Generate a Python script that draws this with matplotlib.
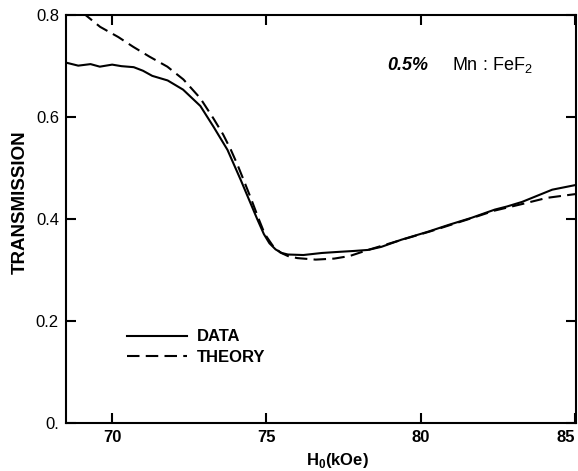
import matplotlib
matplotlib.use('Agg')
import matplotlib.pyplot as plt

# field (kOe) and transmission
data_h = [68.5, 68.9, 69.3, 69.6, 70.0, 70.3, 70.7, 71.0, 71.3, 71.8, 72.3,
          72.86, 73.29, 73.74, 74.17, 74.4, 74.7, 74.92, 75.1, 75.3, 75.5,
          75.7, 76.2, 76.8, 77.3, 77.85, 78.3, 78.73, 79.38, 80.26, 80.91,
          81.66, 82.41, 82.8, 83.29, 84.27, 85.1]
data_t = [0.706, 0.700, 0.703, 0.698, 0.702, 0.699, 0.697, 0.690, 0.680,
          0.671, 0.653, 0.621, 0.580, 0.535, 0.476, 0.443, 0.400, 0.370,
          0.352, 0.340, 0.333, 0.330, 0.329, 0.333, 0.335, 0.337, 0.339,
          0.345, 0.359, 0.375, 0.388, 0.402, 0.418, 0.424, 0.433, 0.457,
          0.467]

theory_h = [68.5, 69.12, 69.61, 70.2, 70.68, 71.2, 71.79, 72.31, 72.86, 73.29,
            73.6, 73.85, 74.07, 74.27, 74.5, 74.75, 74.95, 75.2, 75.45, 75.7,
            76.0, 76.6, 77.2, 77.7, 78.3, 79.4, 80.3, 81.7, 82.4, 83.3, 84.1,
            85.1]
theory_t = [0.822, 0.800, 0.776, 0.756, 0.737, 0.718, 0.698, 0.673, 0.636,
            0.596, 0.565, 0.535, 0.505, 0.475, 0.440, 0.400, 0.370, 0.348,
            0.334, 0.327, 0.323, 0.320, 0.322, 0.327, 0.339, 0.359, 0.375,
            0.402, 0.416, 0.429, 0.441, 0.449]

x_ticks = [70, 75, 80, 85]
x_labels = ['70', '75', '80', '85']
y_ticks = [0, 0.2, 0.4, 0.6, 0.8]
y_labels = ['0.', '0.2', '0.4', '0.6', '0.8']

plt.rcParams['font.family'] = ['Liberation Sans', 'DejaVu Sans']

fig = plt.figure(figsize=(5.78, 4.71), dpi=100)
ax = fig.add_axes([0.114, 0.102, 0.883, 0.867])

ax.plot(data_h, data_t, color='black', lw=1.5, label='DATA')
ax.plot(theory_h, theory_t, color='black', lw=1.5, dashes=(6, 3),
        label='THEORY')

ax.set_xlim(68.5, 85.05)
ax.set_ylim(0, 0.8)
ax.set_xticks(x_ticks)
ax.set_xticklabels(x_labels, fontweight='bold')
ax.get_xticklabels()[-1].set_horizontalalignment('right')
ax.set_yticks(y_ticks)
ax.set_yticklabels(y_labels)
ax.tick_params(direction='in', length=7, width=1.5, labelsize=12,
               top=True, right=True, pad=5)

for s in ax.spines.values():
    s.set_linewidth(1.5)

ax.set_xlabel('H$_\\mathregular{0}$(kOe)', fontsize=12, fontweight='bold')
ax.xaxis.set_label_coords(0.533, -0.068)
ax.set_ylabel('TRANSMISSION', fontsize=13.5, fontweight='bold')
ax.yaxis.set_label_coords(-0.072, 0.54)

ax.text(0.629, 0.865, '0.5%', transform=ax.transAxes, fontsize=13,
        style='italic', fontweight='bold')
ax.text(0.757, 0.865, 'Mn : FeF$_\\mathregular{2}$', transform=ax.transAxes,
        fontsize=13)

ax.legend(loc='center left', bbox_to_anchor=(0.12, 0.185), frameon=False,
          borderpad=0, borderaxespad=0, handlelength=3.6, handletextpad=0.6,
          labelspacing=0.35, prop={'size': 12, 'weight': 'bold'})

fig.savefig('out.png', dpi=100)
